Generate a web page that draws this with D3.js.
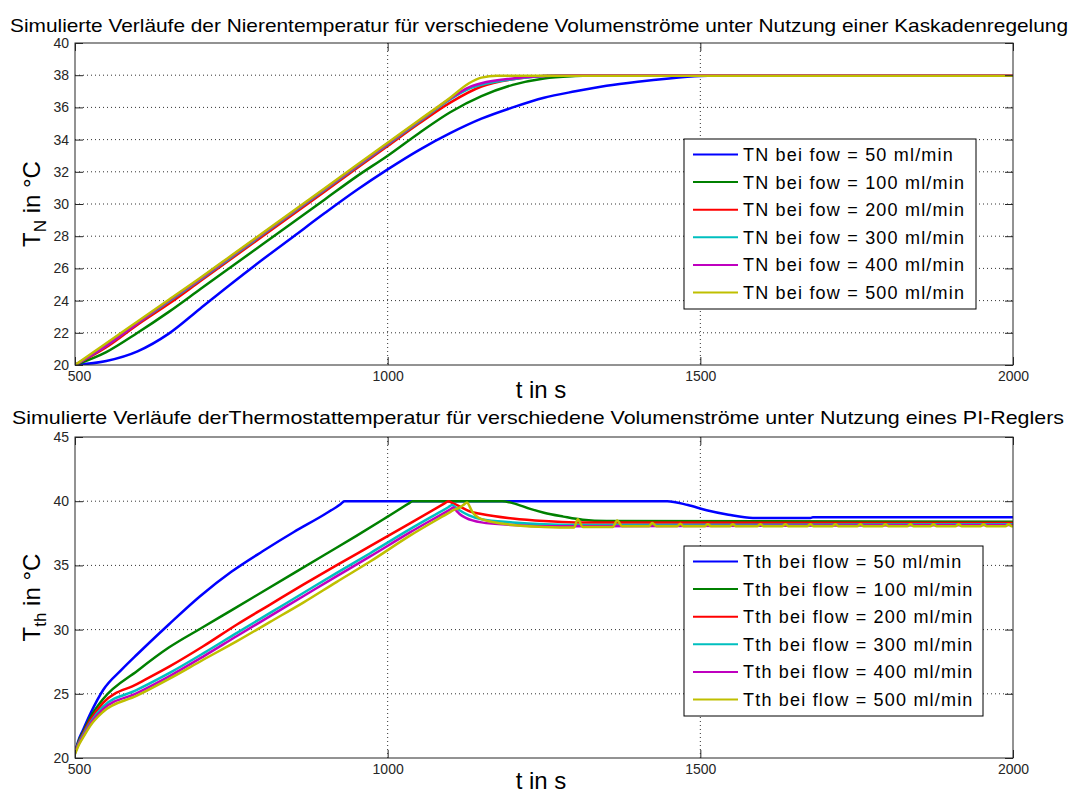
<!DOCTYPE html>
<html lang="de">
<head>
<meta charset="UTF-8" />
<script src="https://d3js.org/d3.v7.min.js"></script>
<style>
  body { margin: 0; background: #fff; }
  svg { display: block; font-family: "Liberation Sans", Arial, sans-serif; }
</style>
</head>
<body>
<svg id="chart"></svg>
<script>
// time axis (s)
const timeTicks = [500, 1000, 1500, 2000];

// upper panel: Nierentemperatur TN [°C], [t, T]
const tnTicks = [20, 22, 24, 26, 28, 30, 32, 34, 36, 38, 40];
const tnLabels = ["TN bei fow = 50 ml/min", "TN bei fow = 100 ml/min", "TN bei fow = 200 ml/min",
                  "TN bei fow = 300 ml/min", "TN bei fow = 400 ml/min", "TN bei fow = 500 ml/min"];
const tn50 = [[500,20],[550,20.25],[600,20.85],[650,21.95],[700,23.5],[750,25.05],[800,26.55],[850,28.0],[900,29.45],
  [950,30.85],[1000,32.15],[1050,33.35],[1100,34.4],[1150,35.3],[1200,36.0],[1250,36.6],[1300,37.0],[1350,37.35],
  [1400,37.6],[1450,37.8],[1500,37.95],[1550,38],[2000,38]];
const tn100 = [[500,20],[550,20.8],[600,22.0],[650,23.3],[700,24.7],[750,26.1],[800,27.5],[850,28.9],[900,30.3],
  [950,31.7],[1000,33.0],[1050,34.4],[1100,35.7],[1150,36.7],[1200,37.4],[1250,37.8],[1300,37.95],[1350,38],[2000,38]];
const tn200 = [[500,20],[550,21.1],[600,22.5],[650,23.8],[700,25.2],[750,26.6],[800,28.0],[850,29.4],[900,30.8],
  [950,32.2],[1000,33.6],[1050,35.0],[1100,36.3],[1150,37.3],[1200,37.75],[1250,37.95],[1300,38],[2000,38]];
const tn300 = [[500,20],[550,21.2],[600,22.6],[650,23.95],[700,25.3],[750,26.7],[800,28.1],[850,29.5],[900,30.9],
  [950,32.3],[1000,33.7],[1050,35.1],[1100,36.5],[1130,37.15],[1150,37.4],[1200,37.75],[1250,37.95],[1300,38],[2000,38]];
const tn400 = [[500,20],[550,21.2],[600,22.6],[650,24.0],[700,25.35],[750,26.75],[800,28.15],[850,29.55],[900,30.95],
  [950,32.35],[1000,33.75],[1050,35.15],[1100,36.55],[1130,37.25],[1150,37.5],[1200,37.8],[1250,37.95],[1300,38],[2000,38]];
const tn500 = [[500,20],[550,21.35],[600,22.7],[650,24.05],[700,25.4],[750,26.8],[800,28.2],[850,29.6],[900,31.0],
  [950,32.4],[1000,33.8],[1050,35.2],[1100,36.6],[1130,37.5],[1150,37.85],[1175,37.97],[2000,37.97]];

// lower panel: Thermostattemperatur Tth [°C], [t, T]
const thTicks = [20, 25, 30, 35, 40, 45];
const thLabels = ["Tth bei flow = 50 ml/min", "Tth bei flow = 100 ml/min", "Tth bei flow = 200 ml/min",
                  "Tth bei flow = 300 ml/min", "Tth bei flow = 400 ml/min", "Tth bei flow = 500 ml/min"];
const th50 = [[500,20.4],[505,21.3],[513,22.2],[525,23.5],[545,25.3],[575,26.9],[600,28.1],[650,30.4],[700,32.6],
  [750,34.5],[800,36.1],[850,37.6],[900,39.0],[924,39.75],[931,40],[1447,40],[1480,39.7],[1510,39.3],[1545,38.95],
  [1584,38.7],[1676,38.7],[1680,38.75],[2000,38.75]];
const th100 = [[500,20.4],[505,21.2],[513,22.0],[525,23.2],[545,24.6],[600,26.8],[650,28.6],[705,30.2],[750,31.5],
  [800,32.95],[850,34.4],[900,35.85],[950,37.3],[1000,38.8],[1033,39.8],[1040,40],[1183,40],[1200,39.85],[1228,39.4],
  [1250,39.1],[1281,38.8],[1312,38.55],[1350,38.45],[2000,38.4]];
const th200 = [[500,20.4],[505,21.1],[513,21.9],[525,23.0],[545,24.3],[599,25.75],[652,27.15],[705,28.7],[759,30.4],
  [812,31.95],[865,33.5],[918,35.0],[972,36.5],[1035,38.25],[1091,39.83],[1097,40],[1103,39.87],[1115,39.6],
  [1132,39.2],[1150,39.0],[1200,38.65],[1250,38.45],[1300,38.35],[2000,38.3]];
const th300 = [[500,20.4],[505,21.05],[513,21.8],[525,22.8],[545,24.0],[599,25.3],[652,26.65],[705,28.15],[759,29.75],
  [812,31.3],[865,32.85],[918,34.4],[972,35.95],[1035,37.8],[1097,39.53],[1103,39.7],[1109,39.5],[1115,39.3],
  [1130,38.9],[1150,38.6],[1200,38.35],[1250,38.2],[1300,38.15],[2000,38.2]];
const th400 = [[500,20.4],[505,21.0],[513,21.7],[525,22.7],[545,23.8],[599,25.05],[652,26.4],[705,27.9],[759,29.5],
  [812,31.05],[865,32.6],[918,34.15],[972,35.7],[1035,37.55],[1099,39.33],[1105,39.5],[1110,39.25],[1115,39.0],
  [1125,38.7],[1150,38.35],[1200,38.15],[1250,38.05],[1300,38.05],[2000,38.15]];
const th500 = [[500,20.3],[505,20.9],[513,21.6],[525,22.55],[545,23.6],[599,24.85],[652,26.2],[705,27.65],[759,29.1],
  [812,30.6],[865,32.1],[918,33.7],[972,35.3],[1035,37.3],[1099,39.13],[1105,39.3],[1115,39.5],[1121,39.7],
  [1127,39.9],[1131,39.6],[1135,39.2],[1150,38.6],[1200,38.15],[1250,38.0],[1298,37.95],
  [1304,38.6],[1312,38.0],[1360,38.0],[1367,38.5],[1375,38.05],[1418,38.05],[1423,38.3],[1430,38.05],
  [1463,38.05],[1468,38.25],[1473,38.05],[1507,38.05],[1512,38.2],[1517,38.05],[1547,38.05],[1552,38.2],[1557,38.05],
  [1591,38.05],[1596,38.2],[1601,38.05],[1631,38.05],[1636,38.2],[1641,38.05],[1671,38.05],[1676,38.2],[1681,38.05],
  [1711,38.05],[1716,38.2],[1721,38.05],[1751,38.05],[1756,38.2],[1761,38.05],[1791,38.05],[1796,38.2],[1801,38.05],
  [1831,38.05],[1836,38.2],[1841,38.05],[1868,38.05],[1873,38.2],[1878,38.05],[1908,38.05],[1913,38.2],[1918,38.05],
  [1948,38.05],[1953,38.2],[1958,38.05],[1988,38.05],[1993,38.2],[1998,38.05],[2000,38.05]];

const colors = ["#0000ff", "#008000", "#ff0000", "#00bfbf", "#bf00bf", "#bfbf00"];

const width = 1076, height = 793;
const svg = d3.select("#chart").attr("width", width).attr("height", height);

const x = d3.scaleLinear().domain([500, 2000]).range([75, 1013]);

function drawPanel(p) {
  const y = d3.scaleLinear().domain([p.yTicks[0], p.yTicks[p.yTicks.length - 1]]).range([p.bottom, p.top]);
  const g = svg.append("g");

  // dotted grid
  g.selectAll(".gy").data(p.yTicks.slice(1, -1)).enter().append("line")
    .attr("x1", x.range()[0]).attr("x2", x.range()[1])
    .attr("y1", d => y(d)).attr("y2", d => y(d))
    .attr("stroke", "#333").attr("stroke-width", 1).attr("stroke-dasharray", "1,3");
  g.selectAll(".gx").data(timeTicks.slice(1, -1)).enter().append("line")
    .attr("y1", p.top).attr("y2", p.bottom)
    .attr("x1", d => x(d)).attr("x2", d => x(d))
    .attr("stroke", "#333").attr("stroke-width", 1).attr("stroke-dasharray", "1,3");

  // curves
  const clipId = "clip" + p.top;
  g.append("clipPath").attr("id", clipId).append("rect")
    .attr("x", 75).attr("y", p.top).attr("width", 1013 - 75).attr("height", p.bottom - p.top);
  const line = d3.line().x(d => x(d[0])).y(d => y(d[1])).curve(d3.curveMonotoneX);
  g.append("g").attr("clip-path", `url(#${clipId})`)
    .selectAll("path").data(p.series).enter().append("path")
    .attr("d", line)
    .attr("fill", "none")
    .attr("stroke", (d, i) => colors[i])
    .attr("stroke-width", 2.5)
    .attr("stroke-linejoin", "round");

  // axes, ticks pointing inward on all four sides
  const axL = g.append("g").attr("transform", "translate(75,0)")
    .call(d3.axisLeft(y).tickValues(p.yTicks).tickSize(-8).tickPadding(6).tickFormat(d3.format("d")));
  const axB = g.append("g").attr("transform", `translate(0,${p.bottom})`)
    .call(d3.axisBottom(x).tickValues(timeTicks).tickSize(-8).tickPadding(6).tickFormat(d3.format("d")));
  g.append("g").attr("transform", "translate(1013,0)")
    .call(d3.axisRight(y).tickValues(p.yTicks).tickSize(-8).tickFormat(""));
  g.append("g").attr("transform", `translate(0,${p.top})`)
    .call(d3.axisTop(x).tickValues(timeTicks).tickSize(-8).tickFormat(""));
  g.selectAll(".domain").remove();
  g.selectAll(".tick line").attr("stroke", "#262626");
  [axL, axB].forEach(a => a.selectAll("text")
    .attr("fill", "#262626").style("font-size", "14px").style("font-family", "Liberation Sans, Arial, sans-serif"));
  // first time label sits just right of the lowest y label
  axB.selectAll(".tick text").filter(d => d === 500).attr("dx", 4);

  g.append("rect")
    .attr("x", 75).attr("y", p.top).attr("width", 1013 - 75).attr("height", p.bottom - p.top)
    .attr("fill", "none").attr("stroke", "#262626").attr("stroke-width", 1);

  // title
  g.append("text")
    .attr("x", p.titleX).attr("y", p.titleY)
    .attr("text-anchor", "middle")
    .style("font-size", "19px")
    .attr("textLength", p.titleLen).attr("lengthAdjust", "spacingAndGlyphs")
    .text(p.title);

  // x label
  g.append("text")
    .attr("x", 541).attr("y", p.xLabelY)
    .attr("text-anchor", "middle")
    .style("font-size", "24px")
    .text("t in s");

  // y label with subscript
  const yl = g.append("text")
    .attr("transform", `translate(40,${(p.top + p.bottom) / 2}) rotate(-90)`)
    .attr("text-anchor", "middle")
    .style("font-size", "24px");
  yl.append("tspan").text("T");
  yl.append("tspan").attr("dy", 6).style("font-size", "17px").text(p.sub);
  yl.append("tspan").attr("dy", -6).text(" in °C");

  // legend
  const lg = g.append("g");
  lg.append("rect")
    .attr("x", 684).attr("y", p.legTop).attr("width", p.legW).attr("height", 170)
    .attr("fill", "#fff").attr("stroke", "#000").attr("stroke-width", 1);
  const rows = lg.selectAll(".row").data(p.labels).enter().append("g")
    .attr("transform", (d, i) => `translate(0,${p.legTop + 15.5 + i * 27.6})`);
  rows.append("line")
    .attr("x1", 693).attr("x2", 738).attr("y1", 0).attr("y2", 0)
    .attr("stroke", (d, i) => colors[i]).attr("stroke-width", 2);
  rows.append("text")
    .attr("x", 743).attr("y", 0).attr("dy", "0.36em")
    .style("font-size", "18px").style("letter-spacing", "1.2px")
    .text(d => d);
}

drawPanel({
  top: 43, bottom: 365, yTicks: tnTicks, series: [tn50, tn100, tn200, tn300, tn400, tn500],
  labels: tnLabels, sub: "N", legTop: 139, legW: 292,
  title: "Simulierte Verläufe der Nierentemperatur für verschiedene Volumenströme unter Nutzung einer Kaskadenregelung",
  titleX: 539, titleY: 32, titleLen: 1058, xLabelY: 398
});
drawPanel({
  top: 437, bottom: 758, yTicks: thTicks, series: [th50, th100, th200, th300, th400, th500],
  labels: thLabels, sub: "th", legTop: 546, legW: 299,
  title: "Simulierte Verläufe derThermostattemperatur für verschiedene Volumenströme unter Nutzung eines PI-Reglers",
  titleX: 538, titleY: 424, titleLen: 1052, xLabelY: 789
});
</script>
</body>
</html>
